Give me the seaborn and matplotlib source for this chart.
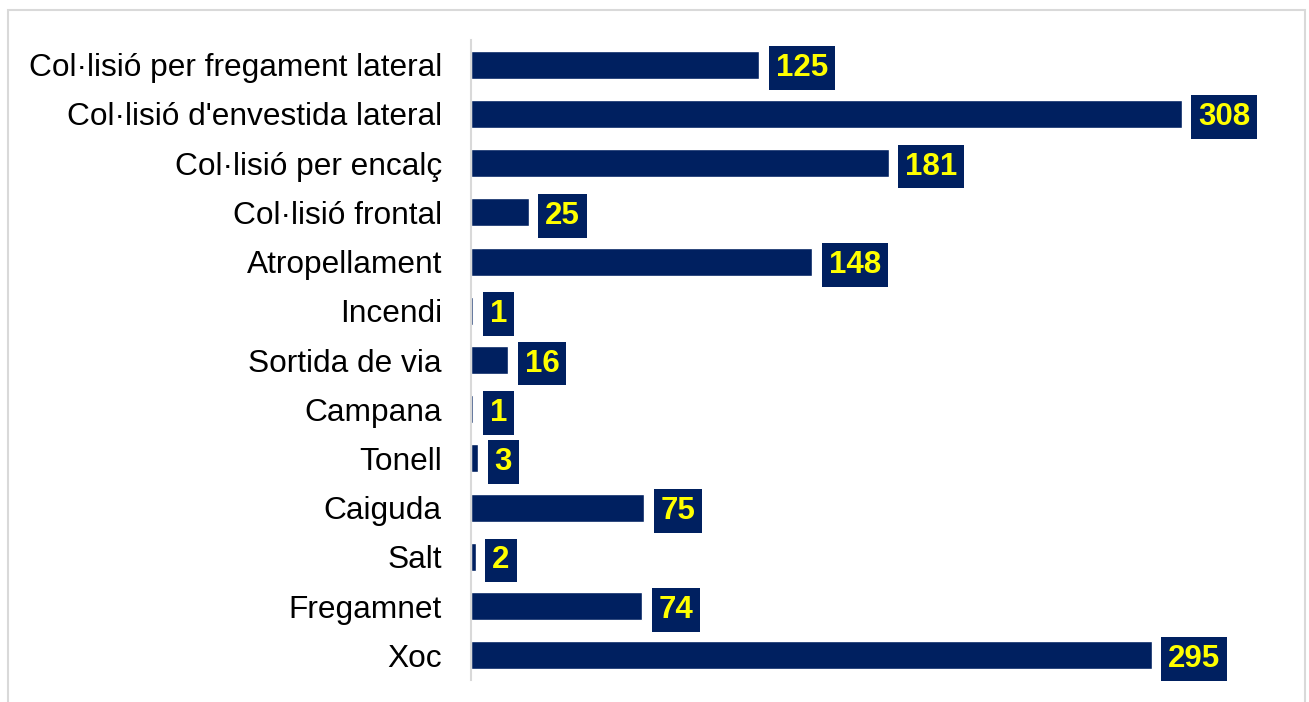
import matplotlib.pyplot as plt
import matplotlib.patches as mpatches
import pandas as pd
import seaborn as sns

# dades
categories = [
    "Col·lisió per fregament lateral",
    "Col·lisió d'envestida lateral",
    "Col·lisió per encalç",
    "Col·lisió frontal",
    "Atropellament",
    "Incendi",
    "Sortida de via",
    "Campana",
    "Tonell",
    "Caiguda",
    "Salt",
    "Fregamnet",
    "Xoc",
]
values = [125, 308, 181, 25, 148, 1, 16, 1, 3, 75, 2, 74, 295]

bar_color = "#002060"
label_color = "#FFFF00"

df = pd.DataFrame({"tipus": categories, "n": values})

sns.set_theme(style="white")
plt.rcParams["font.family"] = ["Liberation Sans", "DejaVu Sans"]

fig = plt.figure(figsize=(13.09, 7.02), dpi=100)
ax = fig.add_axes([471 / 1309, 1 - 680 / 702, (1290 - 471) / 1309, (680 - 40) / 702])

sns.barplot(data=df, x="n", y="tipus", orient="h", color=bar_color,
            saturation=1, width=0.57, ax=ax)

# etiquetes de valor amb caixa
for cont in ax.containers:
    labels = ax.bar_label(cont, padding=12, fontsize=22.5, fontweight="bold",
                          color=label_color)
    for t in labels:
        t.set_va("center_baseline")
        t.set_bbox(dict(facecolor=bar_color, edgecolor="none", pad=5))

ax.set_xlim(0, 355)
ax.set_ylim(len(categories) - 0.5, -0.5)
ax.set_xlabel("")
ax.set_ylabel("")
ax.set_xticks([])
ax.tick_params(axis="y", length=0, pad=21, labelsize=22.8, labelcolor="black")

for s in ["top", "right", "bottom"]:
    ax.spines[s].set_visible(False)
ax.spines["left"].set_color("#d9d9d9")
ax.spines["left"].set_linewidth(1.5)

# vora del gràfic
border = mpatches.Rectangle((8 / 1309, -0.05), (1305 - 8) / 1309, 1.05 - 10 / 702,
                            transform=fig.transFigure, fill=False,
                            edgecolor="#d9d9d9", linewidth=1.5)
fig.patches.append(border)

fig.savefig("out.png", dpi=100)
